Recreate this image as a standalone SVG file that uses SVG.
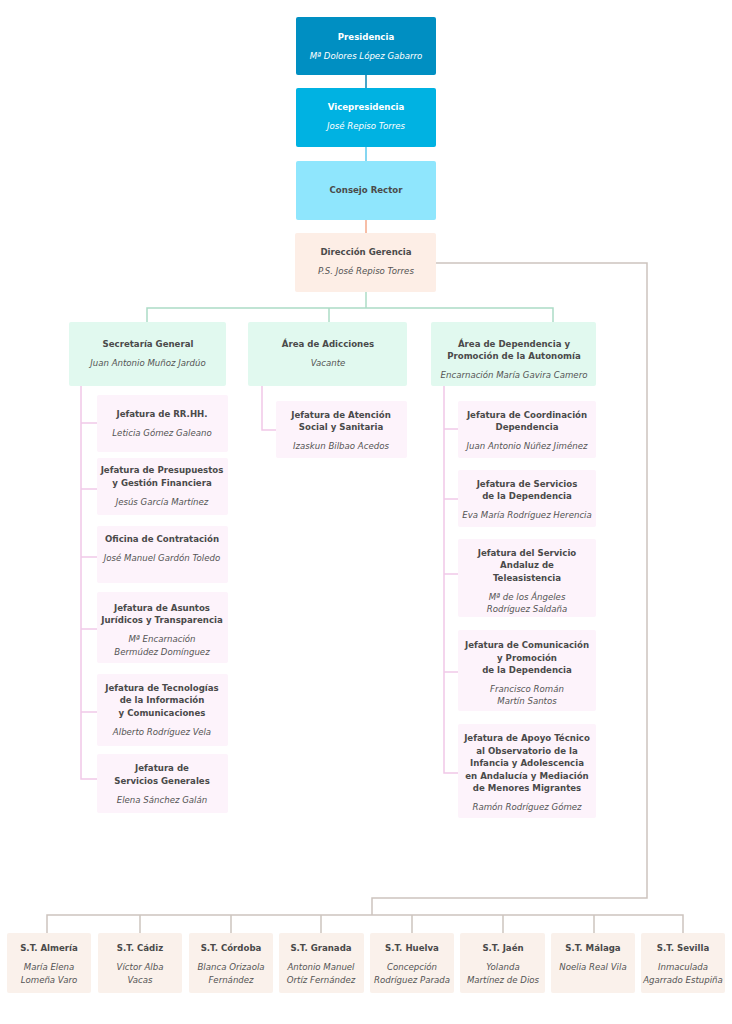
<svg xmlns="http://www.w3.org/2000/svg" width="732" height="1024" viewBox="0 0 732 1024">
<style>
text{font-family:"DejaVu Sans",Verdana,sans-serif;font-size:8.6px;text-anchor:middle}
.t{font-weight:bold;fill:#4a4a4a}
.n{font-style:italic;fill:#555}
.w{fill:#fff}
.g{fill:#e1f9ef}.p{fill:#fdf3fb}.s{fill:#faf1eb}
line,polyline{fill:none;stroke-width:1.5}
.lg{stroke:#acdcc6}.lp{stroke:#f1c8e8}.ls{stroke:#cdc4be}
</style>
<g id="connectors">
<line x1="366" y1="75" x2="366" y2="88" stroke="#0a86b5"/>
<line x1="366" y1="147" x2="366" y2="161" stroke="#5cc8ec"/>
<line x1="366" y1="220" x2="366" y2="233" stroke="#f5a98a"/>
<polyline class="ls" points="436,263 647,263 647,898 372,898 372,915"/>
<polyline class="ls" points="47,933 47,915 683,915 683,933"/>
<line class="ls" x1="140" y1="915" x2="140" y2="933"/><line class="ls" x1="231" y1="915" x2="231" y2="933"/><line class="ls" x1="321" y1="915" x2="321" y2="933"/><line class="ls" x1="412" y1="915" x2="412" y2="933"/><line class="ls" x1="503" y1="915" x2="503" y2="933"/><line class="ls" x1="594" y1="915" x2="594" y2="933"/>
<line class="lg" x1="366" y1="292" x2="366" y2="308"/>
<polyline class="lg" points="147,322 147,308 553,308 553,322"/>
<line class="lg" x1="329" y1="308" x2="329" y2="322"/>
<polyline class="lp" points="81,386 81,779 97,779"/>
<line class="lp" x1="81" y1="423" x2="97" y2="423"/><line class="lp" x1="81" y1="489" x2="97" y2="489"/><line class="lp" x1="81" y1="557" x2="97" y2="557"/><line class="lp" x1="81" y1="629" x2="97" y2="629"/><line class="lp" x1="81" y1="712" x2="97" y2="712"/>
<polyline class="lp" points="262,386 262,430 276,430"/>
<polyline class="lp" points="444,386 444,773 458,773"/>
<line class="lp" x1="444" y1="429" x2="458" y2="429"/><line class="lp" x1="444" y1="499" x2="458" y2="499"/><line class="lp" x1="444" y1="574" x2="458" y2="574"/><line class="lp" x1="444" y1="672" x2="458" y2="672"/>
</g>
<g id="presidencia"><rect x="296" y="17" width="140" height="58" rx="2" fill="#008fc2"/><text x="366" y="40" class="t w">Presidencia</text><text x="366" y="59" class="n w">Mª Dolores López Gabarro</text></g>
<g id="vicepresidencia"><rect x="296" y="88" width="140" height="59" rx="2" fill="#00b2e2"/><text x="366" y="110" class="t w">Vicepresidencia</text><text x="366" y="129" class="n w">José Repiso Torres</text></g>
<g id="consejo"><rect x="296" y="161" width="140" height="59" rx="2" fill="#8fe6fd"/><text x="366" y="193" class="t">Consejo Rector</text></g>
<g id="direccion"><rect x="295" y="233" width="141" height="59" rx="2" fill="#fdeee6"/><text x="366" y="255" class="t">Dirección Gerencia</text><text x="366" y="274" class="n">P.S. José Repiso Torres</text></g>
<g id="secretaria"><rect class="g" x="69" y="322" width="157" height="64" rx="2"/><text x="148" y="347" class="t">Secretaría General</text><text x="148" y="366" class="n">Juan Antonio Muñoz Jardúo</text></g>
<g id="adicciones"><rect class="g" x="248" y="322" width="159" height="64" rx="2"/><text x="328" y="347" class="t">Área de Adicciones</text><text x="328" y="366" class="n">Vacante</text></g>
<g id="dependencia"><rect class="g" x="431" y="322" width="165" height="64" rx="2"/><text x="514" y="347" class="t">Área de Dependencia y</text><text x="514" y="359" class="t">Promoción de la Autonomía</text><text x="514" y="378" class="n">Encarnación María Gavira Camero</text></g>
<g id="rrhh"><rect class="p" x="97" y="395" width="131" height="57" rx="2"/><text x="162" y="417" class="t">Jefatura de RR.HH.</text><text x="162" y="436" class="n">Leticia Gómez Galeano</text></g>
<g id="presupuestos"><rect class="p" x="97" y="458" width="131" height="57" rx="2"/><text x="162" y="473" class="t">Jefatura de Presupuestos</text><text x="162" y="486" class="t">y Gestión Financiera</text><text x="162" y="505" class="n">Jesús García Martínez</text></g>
<g id="contratacion"><rect class="p" x="97" y="526" width="131" height="57" rx="2"/><text x="162" y="542" class="t">Oficina de Contratación</text><text x="162" y="561" class="n">José Manuel Gardón Toledo</text></g>
<g id="juridicos"><rect class="p" x="97" y="592" width="131" height="71" rx="2"/><text x="162" y="611" class="t">Jefatura de Asuntos</text><text x="162" y="623" class="t">Jurídicos y Transparencia</text><text x="162" y="642" class="n">Mª Encarnación</text><text x="162" y="655" class="n">Bermúdez Domínguez</text></g>
<g id="tecnologias"><rect class="p" x="97" y="674" width="131" height="72" rx="2"/><text x="162" y="691" class="t">Jefatura de Tecnologías</text><text x="162" y="703" class="t">de la Información</text><text x="162" y="716" class="t">y Comunicaciones</text><text x="162" y="735" class="n">Alberto Rodríguez Vela</text></g>
<g id="generales"><rect class="p" x="97" y="754" width="131" height="59" rx="2"/><text x="162" y="771" class="t">Jefatura de</text><text x="162" y="784" class="t">Servicios Generales</text><text x="162" y="803" class="n">Elena Sánchez Galán</text></g>
<g id="atencion"><rect class="p" x="276" y="401" width="131" height="57" rx="2"/><text x="341" y="418" class="t">Jefatura de Atención</text><text x="341" y="430" class="t">Social y Sanitaria</text><text x="341" y="449" class="n">Izaskun Bilbao Acedos</text></g>
<g id="coordinacion"><rect class="p" x="458" y="401" width="138" height="57" rx="2"/><text x="527" y="418" class="t">Jefatura de Coordinación</text><text x="527" y="430" class="t">Dependencia</text><text x="527" y="449" class="n">Juan Antonio Núñez Jiménez</text></g>
<g id="servicios"><rect class="p" x="458" y="470" width="138" height="57" rx="2"/><text x="527" y="487" class="t">Jefatura de Servicios</text><text x="527" y="499" class="t">de la Dependencia</text><text x="527" y="518" class="n">Eva María Rodríguez Herencia</text></g>
<g id="teleasistencia"><rect class="p" x="458" y="539" width="138" height="78" rx="2"/><text x="527" y="556" class="t">Jefatura del Servicio</text><text x="527" y="568" class="t">Andaluz de</text><text x="527" y="581" class="t">Teleasistencia</text><text x="527" y="600" class="n">Mª de los Ángeles</text><text x="527" y="612" class="n">Rodríguez Saldaña</text></g>
<g id="comunicacion"><rect class="p" x="458" y="630" width="138" height="81" rx="2"/><text x="527" y="648" class="t">Jefatura de Comunicación</text><text x="527" y="661" class="t">y Promoción</text><text x="527" y="673" class="t">de la Dependencia</text><text x="527" y="692" class="n">Francisco Román</text><text x="527" y="704" class="n">Martín Santos</text></g>
<g id="apoyo"><rect class="p" x="458" y="724" width="138" height="94" rx="2"/><text x="527" y="741" class="t">Jefatura de Apoyo Técnico</text><text x="527" y="754" class="t">al Observatorio de la</text><text x="527" y="766" class="t">Infancia y Adolescencia</text><text x="527" y="779" class="t">en Andalucía y Mediación</text><text x="527" y="791" class="t">de Menores Migrantes</text><text x="527" y="810" class="n">Ramón Rodríguez Gómez</text></g>
<g id="almeria"><rect class="s" x="7" y="933" width="84" height="60" rx="2"/><text x="49" y="951" class="t">S.T. Almería</text><text x="49" y="970" class="n">María Elena</text><text x="49" y="983" class="n">Lomeña Varo</text></g>
<g id="cadiz"><rect class="s" x="98" y="933" width="84" height="60" rx="2"/><text x="140" y="951" class="t">S.T. Cádiz</text><text x="140" y="970" class="n">Víctor Alba</text><text x="140" y="983" class="n">Vacas</text></g>
<g id="cordoba"><rect class="s" x="189" y="933" width="84" height="60" rx="2"/><text x="231" y="951" class="t">S.T. Córdoba</text><text x="231" y="970" class="n">Blanca Orizaola</text><text x="231" y="983" class="n">Fernández</text></g>
<g id="granada"><rect class="s" x="279" y="933" width="85" height="60" rx="2"/><text x="321" y="951" class="t">S.T. Granada</text><text x="321" y="970" class="n">Antonio Manuel</text><text x="321" y="983" class="n">Ortíz Fernández</text></g>
<g id="huelva"><rect class="s" x="370" y="933" width="84" height="60" rx="2"/><text x="412" y="951" class="t">S.T. Huelva</text><text x="412" y="970" class="n">Concepción</text><text x="412" y="983" class="n">Rodríguez Parada</text></g>
<g id="jaen"><rect class="s" x="460" y="933" width="85" height="60" rx="2"/><text x="503" y="951" class="t">S.T. Jaén</text><text x="503" y="970" class="n">Yolanda</text><text x="503" y="983" class="n">Martínez de Dios</text></g>
<g id="malaga"><rect class="s" x="551" y="933" width="84" height="60" rx="2"/><text x="593" y="951" class="t">S.T. Málaga</text><text x="593" y="970" class="n">Noelia Real Vila</text></g>
<g id="sevilla"><rect class="s" x="641" y="933" width="84" height="60" rx="2"/><text x="683" y="951" class="t">S.T. Sevilla</text><text x="683" y="970" class="n">Inmaculada</text><text x="683" y="983" class="n">Agarrado Estupiña</text></g>
</svg>
